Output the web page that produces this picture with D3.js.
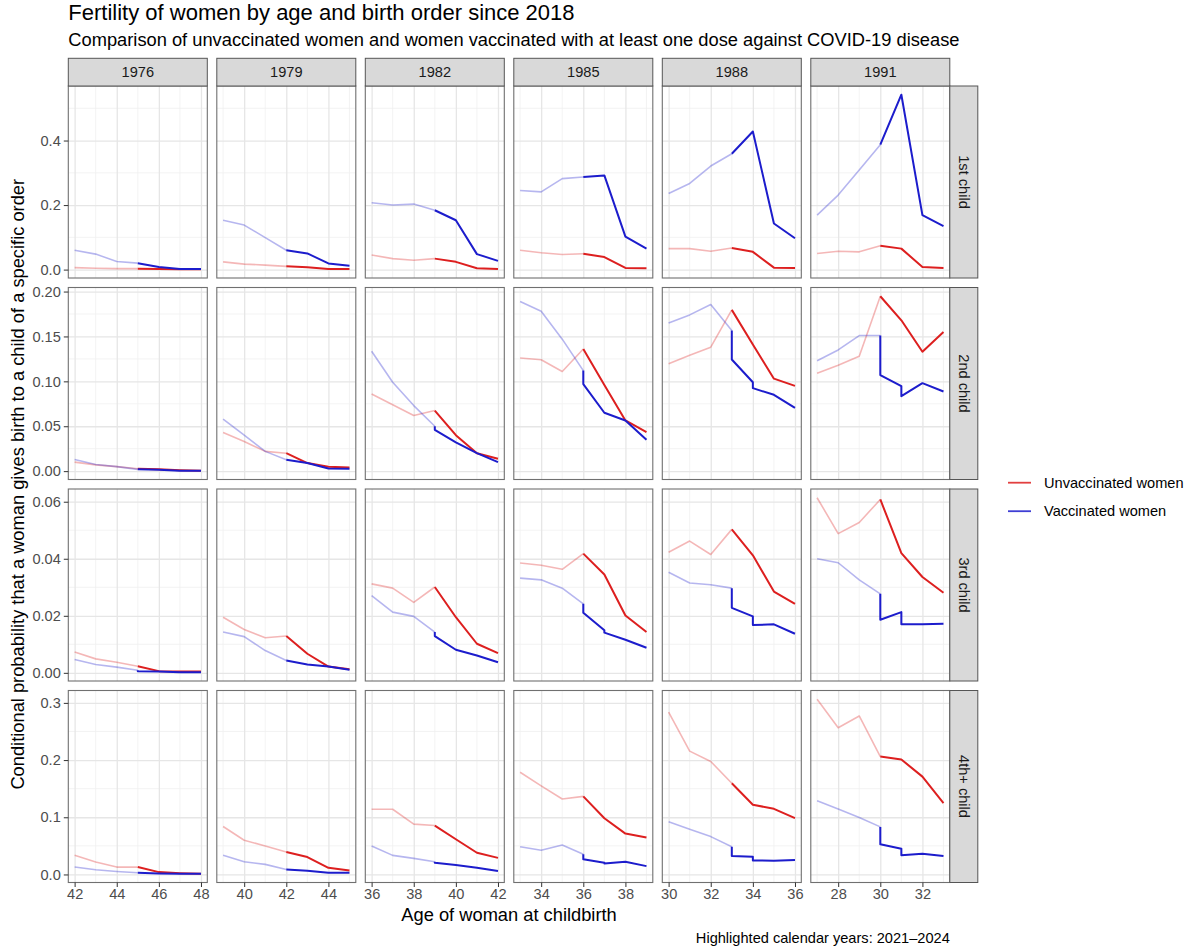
<!DOCTYPE html>
<html>
<head>
<meta charset="utf-8">
<script src="https://cdn.jsdelivr.net/npm/d3@7"></script>
<style>
  body { margin: 0; background: #fff; }
  text { font-family: "Liberation Sans", Arial, sans-serif; }
</style>
</head>
<body>
<div id="chart"></div>
<script>
const cohorts = [1976, 1979, 1982, 1985, 1988, 1991]
const birthOrders = ['1st child', '2nd child', '3rd child', '4th+ child']
const firstYear = 2018
const highlightYear = 2021

const ageTicks = [[42, 44, 46, 48], [40, 42, 44], [36, 38, 40, 42], [34, 36, 38], [30, 32, 34, 36], [28, 30, 32]]
const yTicks = [[0, 0.2, 0.4], [0, 0.05, 0.1, 0.15, 0.2], [0, 0.02, 0.04, 0.06], [0, 0.1, 0.2, 0.3]]
const yFormats = ['.1f', '.2f', '.2f', '.1f']

// [age, probability]; a repeated age is a step in the series
const unvac1st = [
  [[42, 0.006], [43, 0.004], [44, 0.003], [45, 0.003], [46, 0.002], [47, 0.001], [48, 0.001]],
  [[39, 0.024], [40, 0.017], [41, 0.014], [42, 0.010], [43, 0.007], [44, 0.002], [45, 0.002]],
  [[36, 0.045], [37, 0.034], [38, 0.029], [39, 0.034], [40, 0.024], [41, 0.004], [42, 0.002]],
  [[33, 0.060], [34, 0.052], [35, 0.047], [36, 0.049], [37, 0.039], [38, 0.005], [39, 0.004]],
  [[30, 0.065], [31, 0.065], [32, 0.057], [33, 0.067], [34, 0.055], [35, 0.006], [36, 0.005]],
  [[27, 0.050], [28, 0.057], [29, 0.055], [30, 0.074], [31, 0.065], [32, 0.008], [33, 0.005]]
]
const vac1st = [
  [[42, 0.060], [43, 0.048], [44, 0.025], [45, 0.020], [46, 0.008], [47, 0.002], [48, 0.002]],
  [[39, 0.153], [40, 0.138], [41, 0.099], [42, 0.060], [43, 0.050], [44, 0.019], [45, 0.012]],
  [[36, 0.207], [37, 0.200], [38, 0.203], [39, 0.184], [40, 0.153], [41, 0.048], [42, 0.027]],
  [[33, 0.245], [34, 0.241], [35, 0.282], [36, 0.287], [37, 0.292], [38, 0.102], [39, 0.065]],
  [[30, 0.236], [31, 0.267], [32, 0.321], [33, 0.359], [34, 0.428], [35, 0.143], [36, 0.097]],
  [[27, 0.169], [28, 0.231], [29, 0.309], [30, 0.387], [31, 0.542], [32, 0.169], [33, 0.135]]
]
const unvac2nd = [
  [[42, 0.010], [43, 0.007], [44, 0.005], [45, 0.0026], [46, 0.002], [47, 0.001], [48, 0.0004]],
  [[39, 0.043], [40, 0.033], [41, 0.022], [42, 0.020], [43, 0.009], [44, 0.005], [45, 0.004]],
  [[36, 0.086], [37, 0.074], [38, 0.062], [39, 0.0675], [40, 0.040], [41, 0.020], [42, 0.0137]],
  [[33, 0.126], [34, 0.124], [35, 0.111], [36, 0.136], [37, 0.096], [38, 0.0564], [39, 0.0434]],
  [[30, 0.1195], [31, 0.129], [32, 0.138], [33, 0.1796], [34, 0.141], [35, 0.103], [36, 0.095]],
  [[27, 0.109], [28, 0.118], [29, 0.128], [30, 0.1948], [31, 0.168], [32, 0.133], [33, 0.155]]
]
const vac2nd = [
  [[42, 0.013], [43, 0.0074], [44, 0.005], [45, 0.002], [46, 0.0015], [47, 0.0004], [48, 0.0004]],
  [[39, 0.058], [40, 0.040], [41, 0.022], [42, 0.0126], [43, 0.009], [44, 0.003], [45, 0.0026]],
  [[36, 0.1336], [37, 0.099], [38, 0.073], [39, 0.050], [39, 0.046], [40, 0.032], [41, 0.020], [42, 0.010]],
  [[33, 0.189], [34, 0.178], [35, 0.147], [36, 0.112], [36, 0.097], [37, 0.065], [38, 0.0564], [39, 0.035]],
  [[30, 0.165], [31, 0.174], [32, 0.1855], [33, 0.1566], [33, 0.1243], [34, 0.099], [34, 0.0924], [35, 0.085], [36, 0.0705]],
  [[27, 0.123], [28, 0.135], [29, 0.151], [30, 0.151], [30, 0.107], [31, 0.0946], [31, 0.0835], [32, 0.098], [33, 0.0887]]
]
const unvac3rd = [
  [[42, 0.0073], [43, 0.0049], [44, 0.0037], [45, 0.0023], [46, 0.0006], [47, 0.0005], [48, 0.0005]],
  [[39, 0.0195], [40, 0.0152], [41, 0.0123], [42, 0.0129], [43, 0.0067], [44, 0.0022], [45, 0.0013]],
  [[36, 0.0312], [37, 0.0297], [38, 0.0247], [39, 0.0301], [40, 0.0195], [41, 0.0102], [42, 0.0069]],
  [[33, 0.0385], [34, 0.0377], [35, 0.0363], [36, 0.0418], [37, 0.0345], [38, 0.0201], [39, 0.0143]],
  [[30, 0.0423], [31, 0.0462], [32, 0.0415], [33, 0.0503], [34, 0.0412], [35, 0.0285], [36, 0.0242]],
  [[27, 0.0614], [28, 0.0488], [29, 0.0527], [30, 0.0608], [31, 0.042], [32, 0.0336], [33, 0.0281]]
]
const vac3rd = [
  [[42, 0.0047], [43, 0.0029], [44, 0.002], [45, 0.0009], [45, 0.0006], [46, 0.0005], [47, 0.0002], [48, 0.0002]],
  [[39, 0.0143], [40, 0.0127], [41, 0.0078], [42, 0.0043], [43, 0.0029], [44, 0.0022], [45, 0.0011]],
  [[36, 0.0271], [37, 0.0213], [38, 0.0198], [39, 0.0143], [39, 0.0129], [40, 0.0081], [41, 0.0061], [42, 0.0037]],
  [[33, 0.0332], [34, 0.0326], [35, 0.0297], [36, 0.0242], [36, 0.0211], [37, 0.0149], [37, 0.0141], [38, 0.0116], [39, 0.0088]],
  [[30, 0.0353], [31, 0.0315], [32, 0.0309], [33, 0.0297], [33, 0.0228], [34, 0.0198], [34, 0.0168], [35, 0.017], [36, 0.0137]],
  [[27, 0.040], [28, 0.0386], [29, 0.0326], [30, 0.0277], [30, 0.0186], [31, 0.0213], [31, 0.017], [32, 0.017], [33, 0.0172]]
]
const unvac4th = [
  [[42, 0.0334], [43, 0.0217], [44, 0.0129], [45, 0.0129], [46, 0.0041], [47, 0.0023], [48, 0.0012]],
  [[39, 0.0838], [40, 0.0598], [41, 0.0498], [42, 0.0393], [43, 0.0305], [44, 0.0117], [45, 0.007]],
  [[36, 0.114], [37, 0.114], [38, 0.088], [39, 0.0855], [40, 0.0615], [41, 0.038], [42, 0.029]],
  [[33, 0.1787], [34, 0.155], [35, 0.132], [36, 0.1365], [37, 0.0984], [38, 0.0715], [39, 0.0645]],
  [[30, 0.284], [31, 0.2156], [32, 0.1975], [33, 0.1594], [34, 0.1219], [35, 0.1148], [36, 0.0984]],
  [[27, 0.3064], [28, 0.2566], [29, 0.2771], [30, 0.2062], [31, 0.201], [32, 0.1711], [33, 0.1248]]
]
const vac4th = [
  [[42, 0.0129], [43, 0.0082], [44, 0.0053], [45, 0.0029], [46, 0.0018], [47, 0.0013], [48, 0.0012]],
  [[39, 0.0334], [40, 0.0223], [41, 0.0176], [42, 0.0088], [43, 0.0064], [44, 0.0029], [45, 0.0029]],
  [[36, 0.0498], [37, 0.0334], [38, 0.0281], [39, 0.0223], [39, 0.0205], [40, 0.0164], [41, 0.0117], [42, 0.0059]],
  [[33, 0.0486], [34, 0.0422], [35, 0.0516], [36, 0.0352], [36, 0.0264], [37, 0.0205], [37, 0.019], [38, 0.0223], [39, 0.0146]],
  [[30, 0.092], [31, 0.0791], [32, 0.0662], [33, 0.0486], [33, 0.0322], [34, 0.031], [34, 0.0246], [35, 0.024], [36, 0.0252]],
  [[27, 0.1289], [28, 0.1143], [29, 0.0996], [30, 0.0832], [30, 0.0527], [31, 0.0451], [31, 0.0334], [32, 0.0363], [33, 0.0322]]
]

const groups = ['Unvaccinated women', 'Vaccinated women']
const colors = ['#dd1f1f', '#1c1ccc']

const width = 1184
const height = 951
const panelLeft = 68.3
const panelTop = 86
const panelW = 139
const panelH = 192
const gapX = 9.5
const gapY = 9.5
const stripH = 27.7
const stripW = 28
const tickSize = 14.6
const titleSize = 18.3

const svg = d3.select('#chart')
  .append('svg')
  .attr('width', width)
  .attr('height', height)

const rows = [
  [unvac1st, vac1st],
  [unvac2nd, vac2nd],
  [unvac3rd, vac3rd],
  [unvac4th, vac4th]
]

// ggplot-style 5% expansion
const expand = ([lo, hi], f = 0.05) => [lo - (hi - lo) * f, hi + (hi - lo) * f]

const xScales = cohorts.map((c, i) => {
  const a0 = firstYear - c
  return d3.scaleLinear()
    .domain(expand([a0, a0 + 6]))
    .range([panelLeft + i * (panelW + gapX), panelLeft + i * (panelW + gapX) + panelW])
})

const yScales = rows.map((series, r) => {
  const vals = series.flat(2).map(p => p[1])
  const top = panelTop + r * (panelH + gapY)
  return d3.scaleLinear()
    .domain(expand(d3.extent(vals)))
    .range([top + panelH, top])
})

const minorBreaks = (ticks, domain) => {
  const step = ticks[1] - ticks[0]
  const out = []
  for (let v = ticks[0] - step / 2; v <= ticks[ticks.length - 1] + step / 2 + 1e-9; v += step) {
    if (v >= domain[0] && v <= domain[1]) out.push(v)
  }
  return out
}

// faded part runs up to the first highlighted age, the bold part starts there (step included)
const splitSeries = (points, startAge) => {
  const first = points.findIndex(p => p[0] === startAge)
  return [points.slice(0, first + 1), points.slice(first)]
}

rows.forEach((series, r) => {
  const y = yScales[r]
  cohorts.forEach((cohort, c) => {
    const x = xScales[c]
    const g = svg.append('g')
    const [x0, x1] = x.range()
    const [y1, y0] = y.range()

    g.append('rect')
      .attr('x', x0).attr('y', y0)
      .attr('width', panelW).attr('height', panelH)
      .attr('fill', '#fff')

    // minor grid
    g.selectAll('.minor-x')
      .data(minorBreaks(ageTicks[c], x.domain()))
      .enter().append('line')
      .attr('x1', d => x(d)).attr('x2', d => x(d))
      .attr('y1', y0).attr('y2', y1)
      .attr('stroke', '#f0f0f0').attr('stroke-width', 0.8)
    g.selectAll('.minor-y')
      .data(minorBreaks(yTicks[r], y.domain()))
      .enter().append('line')
      .attr('x1', x0).attr('x2', x1)
      .attr('y1', d => y(d)).attr('y2', d => y(d))
      .attr('stroke', '#f0f0f0').attr('stroke-width', 0.8)

    // major grid
    g.append('g')
      .attr('transform', `translate(0, ${y1})`)
      .call(d3.axisBottom(x).tickValues(ageTicks[c]).tickSize(-panelH).tickFormat(''))
      .call(a => a.select('.domain').remove())
      .call(a => a.selectAll('line').attr('stroke', '#e6e6e6').attr('stroke-width', 1.3))
    g.append('g')
      .attr('transform', `translate(${x0}, 0)`)
      .call(d3.axisLeft(y).tickValues(yTicks[r]).tickSize(-panelW).tickFormat(''))
      .call(a => a.select('.domain').remove())
      .call(a => a.selectAll('line').attr('stroke', '#e6e6e6').attr('stroke-width', 1.3))

    const line = d3.line().x(d => x(d[0])).y(d => y(d[1]))
    const startAge = highlightYear - cohort
    const parts = series.map(s => splitSeries(s[c], startAge))

    parts.forEach((p, k) => {
      g.append('path')
        .attr('d', line(p[0]))
        .attr('fill', 'none')
        .attr('stroke', colors[k])
        .attr('stroke-opacity', 0.32)
        .attr('stroke-width', 1.6)
        .attr('stroke-linejoin', 'round')
    })
    parts.forEach((p, k) => {
      g.append('path')
        .attr('d', line(p[1]))
        .attr('fill', 'none')
        .attr('stroke', colors[k])
        .attr('stroke-width', 2)
        .attr('stroke-linejoin', 'round')
    })

    g.append('rect')
      .attr('x', x0).attr('y', y0)
      .attr('width', panelW).attr('height', panelH)
      .attr('fill', 'none')
      .attr('stroke', '#707070').attr('stroke-width', 1.1)

    if (c === 0) {
      svg.append('g')
        .attr('transform', `translate(${x0}, 0)`)
        .call(d3.axisLeft(y).tickValues(yTicks[r]).tickFormat(d3.format(yFormats[r])).tickSize(4.5).tickPadding(3))
        .call(a => a.select('.domain').remove())
        .call(a => a.selectAll('line').attr('stroke', '#333'))
        .call(a => a.selectAll('text').attr('fill', '#4d4d4d').style('font-size', tickSize + 'px').style('font-family', '"Liberation Sans", Arial, sans-serif'))
    }
    if (r === rows.length - 1) {
      svg.append('g')
        .attr('transform', `translate(0, ${y1})`)
        .call(d3.axisBottom(x).tickValues(ageTicks[c]).tickFormat(d3.format('d')).tickSize(4.5).tickPadding(2))
        .call(a => a.select('.domain').remove())
        .call(a => a.selectAll('line').attr('stroke', '#333'))
        .call(a => a.selectAll('text').attr('fill', '#4d4d4d').style('font-size', tickSize + 'px').style('font-family', '"Liberation Sans", Arial, sans-serif'))
    }
  })
})

// column strips
cohorts.forEach((cohort, c) => {
  const [x0] = xScales[c].range()
  svg.append('rect')
    .attr('x', x0).attr('y', panelTop - stripH)
    .attr('width', panelW).attr('height', stripH)
    .attr('fill', '#d9d9d9')
    .attr('stroke', '#555').attr('stroke-width', 1)
  svg.append('text')
    .attr('x', x0 + panelW / 2)
    .attr('y', panelTop - stripH / 2 + 5)
    .attr('text-anchor', 'middle')
    .attr('fill', '#1a1a1a')
    .style('font-size', tickSize + 'px')
    .text(cohort)
})

// row strips
const stripX = panelLeft + (cohorts.length - 1) * (panelW + gapX) + panelW
birthOrders.forEach((label, r) => {
  const [yb, yt] = yScales[r].range()
  svg.append('rect')
    .attr('x', stripX).attr('y', yt)
    .attr('width', stripW).attr('height', panelH)
    .attr('fill', '#d9d9d9')
    .attr('stroke', '#555').attr('stroke-width', 1)
  svg.append('text')
    .attr('transform', `translate(${stripX + stripW / 2 - 5}, ${(yt + yb) / 2}) rotate(90)`)
    .attr('text-anchor', 'middle')
    .attr('fill', '#1a1a1a')
    .style('font-size', tickSize + 'px')
    .text(label)
})

// titles
svg.append('text')
  .attr('x', panelLeft).attr('y', 20)
  .style('font-size', '22px')
  .text('Fertility of women by age and birth order since 2018')
svg.append('text')
  .attr('x', panelLeft).attr('y', 45.5)
  .style('font-size', titleSize + 'px')
  .text('Comparison of unvaccinated women and women vaccinated with at least one dose against COVID-19 disease')

const panelsRight = stripX
svg.append('text')
  .attr('x', (panelLeft + panelsRight) / 2).attr('y', 921)
  .attr('text-anchor', 'middle')
  .style('font-size', titleSize + 'px')
  .text('Age of woman at childbirth')

const panelsBottom = panelTop + 4 * panelH + 3 * gapY
svg.append('text')
  .attr('transform', `translate(24, ${(panelTop + panelsBottom) / 2}) rotate(-90)`)
  .attr('text-anchor', 'middle')
  .style('font-size', titleSize + 'px')
  .text('Conditional probability that a woman gives birth to a child of a specific order')

svg.append('text')
  .attr('x', panelsRight).attr('y', 943)
  .attr('text-anchor', 'end')
  .style('font-size', tickSize + 'px')
  .text('Highlighted calendar years: 2021\u20132024')

// legend
const legend = svg.append('g').attr('transform', 'translate(1008, 482.7)')
groups.forEach((name, i) => {
  legend.append('line')
    .attr('x1', 0).attr('x2', 23)
    .attr('y1', i * 28.5).attr('y2', i * 28.5)
    .attr('stroke', colors[i]).attr('stroke-opacity', 0.85)
    .attr('stroke-width', 1.8)
  legend.append('text')
    .attr('x', 36).attr('y', i * 28.5 + 5)
    .style('font-size', tickSize + 'px')
    .text(name)
})
</script>
</body>
</html>
